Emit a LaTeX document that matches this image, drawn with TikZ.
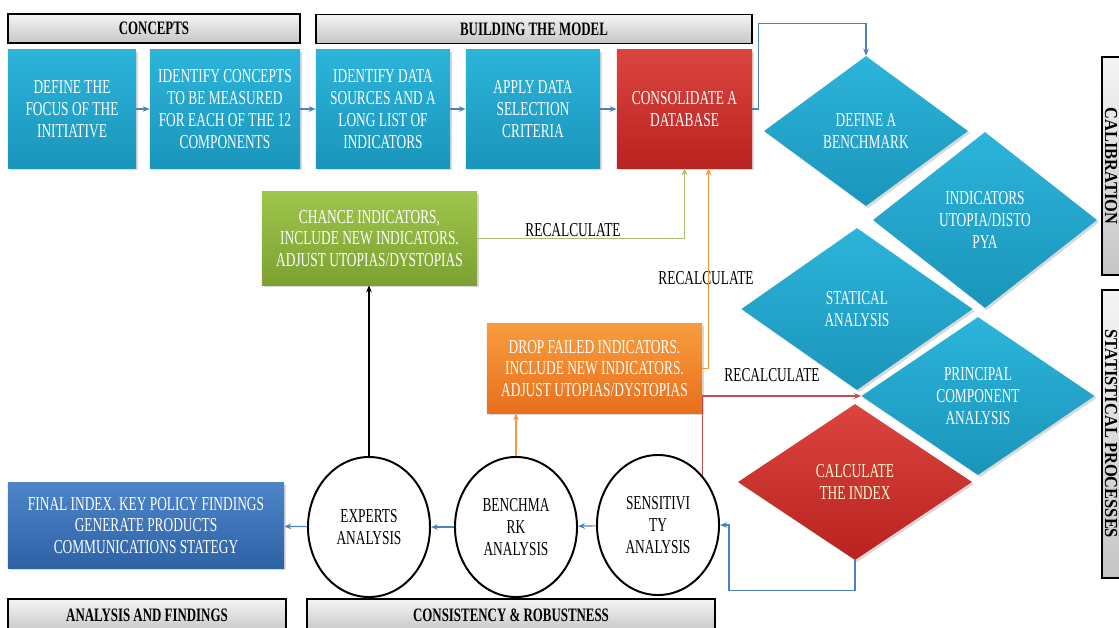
\documentclass[tikz,border=0pt]{standalone}
\usepackage{fontspec}
\setmainfont{Liberation Serif}[FakeStretch=0.68]
\newfontfamily\sidefont{Liberation Serif}[FakeStretch=0.9]
\usetikzlibrary{shapes.geometric,arrows.meta,calc,shadows}
\definecolor{cyanhi}{HTML}{2DB4DA}
\definecolor{cyanlo}{HTML}{1A95BB}
\definecolor{redhi}{HTML}{DA4540}
\definecolor{redlo}{HTML}{B8231F}
\definecolor{greenhi}{HTML}{9EC54C}
\definecolor{greenlo}{HTML}{7CA131}
\definecolor{orangehi}{HTML}{F89C3E}
\definecolor{orangelo}{HTML}{E8701C}
\definecolor{navyhi}{HTML}{4D84C8}
\definecolor{navylo}{HTML}{2E62A6}
\definecolor{linkblue}{HTML}{4F81BD}
\definecolor{linkred}{HTML}{C0504D}
\definecolor{linkorange}{HTML}{F79646}
\definecolor{linkgreen}{HTML}{A8C070}

\begin{document}
\begin{tikzpicture}[x=0.025cm,y=-0.025cm,
    txt/.style={font=\fontsize{14}{15.5}\selectfont,align=center},
    shade/.style={drop shadow={opacity=0.3,shadow xshift=1.5pt,shadow yshift=-1.5pt}},
    stepbox/.style={txt,rectangle,text=white,minimum height=2.95cm,inner sep=0pt,shade},
    cyanfill/.style={top color=cyanhi,bottom color=cyanlo},
    redfill/.style={top color=redhi,bottom color=redlo},
    hdr/.style={draw=black,line width=1.2pt,top color=gray!8,bottom color=gray!45,
      font=\bfseries\fontsize{13.5}{15}\selectfont,minimum height=0.725cm,inner sep=0pt},
    sidehdr/.style={hdr,rotate=-90,font=\sidefont\bfseries\fontsize{13}{14}\selectfont,minimum height=0.45cm},
    dia/.style={diamond,txt,text=white,inner sep=0pt,shade},
    circ/.style={ellipse,draw=black,line width=1.4pt,fill=white,txt,
      minimum width=3.05cm,minimum height=3.5cm,inner sep=0pt},
    link/.style={draw=linkblue,line width=0.8pt,-{Stealth[length=5pt,width=4pt]}},
    recalc/.style={txt,inner sep=1pt}]
  \useasboundingbox (0,0) rectangle (1119,627);

  % headers
  \node[hdr,minimum width=7.3cm] (hconc) at (154,28.5) {CONCEPTS};
  \node[hdr,minimum width=10.9cm] (hbuild) at (534,29) {BUILDING THE MODEL};
  \node[hdr,minimum width=6.95cm,minimum height=0.825cm] (hfind) at (147,615.5) {ANALYSIS AND FINDINGS};
  \node[hdr,minimum width=10.2cm,minimum height=0.825cm] (hcons) at (511,615.5) {CONSISTENCY \& ROBUSTNESS};
  \node[sidehdr,minimum width=5.45cm] (hcal) at (1111,166) {CALIBRATION};
  \node[sidehdr,minimum width=7.2cm] (hstat) at (1111,434) {STATISTICAL PROCESSES};

  % top row
  \node[stepbox,cyanfill,minimum width=3.2cm] (focus) at (72,109) {DEFINE THE\\FOCUS OF THE\\INITIATIVE};
  \node[stepbox,cyanfill,minimum width=3.75cm] (concepts) at (225,109) {IDENTIFY CONCEPTS\\TO BE MEASURED\\FOR EACH OF THE 12\\COMPONENTS};
  \node[stepbox,cyanfill,minimum width=3.35cm] (sources) at (383,109) {IDENTIFY DATA\\SOURCES AND A\\LONG LIST OF\\INDICATORS};
  \node[stepbox,cyanfill,minimum width=3.35cm] (criteria) at (533,109) {APPLY DATA\\SELECTION\\CRITERIA};
  \node[stepbox,redfill,minimum width=3.375cm] (database) at (684.5,109) {CONSOLIDATE A\\DATABASE};

  % diamonds
  \node[dia,cyanfill,minimum width=5.6cm,minimum height=4.4cm] (utopia) at (985,220) {INDICATORS\\UTOPIA/DISTO\\PYA};
  \node[dia,cyanfill,minimum width=5.1cm,minimum height=3.75cm] (bench) at (866,131) {DEFINE A\\BENCHMARK};
  \node[dia,cyanfill,minimum width=5.78cm,minimum height=4.05cm] (stat) at (857,309) {STATICAL\\ANALYSIS};
  \node[dia,cyanfill,minimum width=5.83cm,minimum height=3.95cm] (pca) at (978,396) {PRINCIPAL\\COMPONENT\\ANALYSIS};
  \node[dia,redfill,text=yellow!15,minimum width=5.85cm,minimum height=3.9cm] (index) at (855,482) {CALCULATE\\THE INDEX};

  % feedback boxes
  \node[stepbox,top color=greenhi,bottom color=greenlo,minimum width=5.375cm,minimum height=2.325cm] (change) at (369.5,238.5) {CHANCE INDICATORS,\\INCLUDE NEW INDICATORS.\\ADJUST UTOPIAS/DYSTOPIAS};
  \node[stepbox,top color=orangehi,bottom color=orangelo,minimum width=5.375cm,minimum height=2.225cm] (drop) at (594.5,368.5) {DROP FAILED INDICATORS.\\INCLUDE NEW INDICATORS.\\ADJUST UTOPIAS/DYSTOPIAS};
  \node[stepbox,top color=navyhi,bottom color=navylo,minimum width=6.9cm,minimum height=2.125cm] (final) at (146,525.5) {FINAL INDEX. KEY POLICY FINDINGS\\GENERATE PRODUCTS\\COMMUNICATIONS STATEGY};

  % analyses
  \node[circ] (experts) at (369,527) {EXPERTS\\ANALYSIS};
  \node[circ] (benchan) at (516,527) {BENCHMA\\RK\\ANALYSIS};
  \node[circ] (sens) at (658,525) {SENSITIVI\\TY\\ANALYSIS};

  % labels
  \node[recalc] (rc1) at (573,230) {RECALCULATE};
  \node[recalc] (rc2) at (706,278) {RECALCULATE};
  \node[recalc] (rc3) at (772,375) {RECALCULATE};

  % connectors
  \draw[link] (focus) -- (concepts);
  \draw[link] (concepts) -- (sources);
  \draw[link] (sources) -- (criteria);
  \draw[link] (criteria) -- (database);
  \draw[link] (database.east) -- ++(6,0) |- ($(bench.north)+(0,-32)$) -- (bench.north);
  \draw[link,draw=linkgreen] (change.east) -| (database.south);
  \draw[link,draw=linkorange] (drop.east) -| ($(database.south)+(24,0)$);
  \draw[link,draw=linkorange] (benchan.north) -- (benchan.north |- drop.south);
  \draw[link,draw=linkred] (sens.48) |- (pca.west);
  \draw[link] (index.south) -- ++(0,30) -| ($(sens.east)+(9,0)$) -- (sens.east);
  \draw[link] (sens) -- (benchan);
  \draw[link] (benchan) -- (experts);
  \draw[link] (experts) -- (final);
  \draw[link,draw=black] (experts.north) -- (experts.north |- change.south);
\end{tikzpicture}
\end{document}
